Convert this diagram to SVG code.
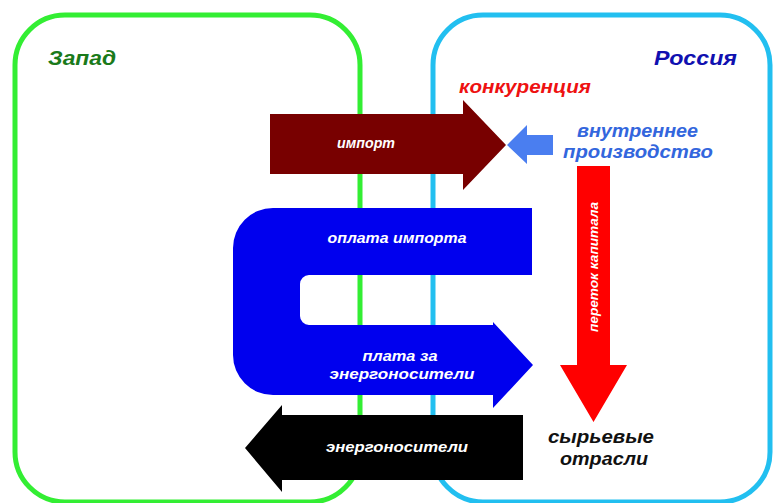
<svg xmlns="http://www.w3.org/2000/svg" width="773" height="503" viewBox="0 0 773 503">
  <style>
    text { font-family: "Liberation Sans", Arial, sans-serif; font-weight: bold; font-style: italic; }
    .region { fill: none; stroke-width: 5; }
    .title { font-size: 20px; }
    .label { font-size: 18px; }
    .flow { fill: #ffffff; font-size: 14px; text-anchor: middle; }
  </style>

  <!-- Regions -->
  <g id="west">
    <rect class="region" x="15" y="15" width="345" height="487" rx="50" ry="50" stroke="#33ee33"/>
    <text class="title" x="48" y="65" fill="#1a7a1a" textLength="68" lengthAdjust="spacingAndGlyphs">Запад</text>
  </g>
  <g id="russia">
    <rect class="region" x="433" y="15" width="337" height="487" rx="50" ry="50" stroke="#22bff0"/>
    <text class="title" x="654" y="65" fill="#1010b0" textLength="83" lengthAdjust="spacingAndGlyphs">Россия</text>
  </g>

  <!-- Free-standing labels -->
  <g id="competition">
    <text class="label" x="459" y="93" fill="#ee1111" textLength="132" lengthAdjust="spacingAndGlyphs">конкуренция</text>
  </g>
  <g id="domestic-production">
    <text class="label" x="577" y="137" fill="#3366dd" textLength="121" lengthAdjust="spacingAndGlyphs">внутреннее</text>
    <text class="label" x="563" y="158" fill="#3366dd" textLength="150" lengthAdjust="spacingAndGlyphs">производство</text>
  </g>
  <g id="raw-sectors">
    <text class="label" x="548" y="443" fill="#111111" textLength="106" lengthAdjust="spacingAndGlyphs">сырьевые</text>
    <text class="label" x="560" y="465" fill="#111111" textLength="88" lengthAdjust="spacingAndGlyphs">отрасли</text>
  </g>

  <!-- Flows -->
  <g id="connectors">
    <g id="import">
      <path d="M270 114 H463 V100 L506 145 L463 190 V174 H270 Z" fill="#780000"/>
      <text class="flow" x="366" y="148" textLength="58" lengthAdjust="spacingAndGlyphs">импорт</text>
    </g>
    <g id="domestic-push">
      <path d="M553 135 H527 V125 L507 145 L527 164 V155 H553 Z" fill="#4a7ef0"/>
    </g>
    <g id="capital-flow">
      <path d="M577 166 H610 V365 H627 L593.5 422 L560 365 H577 Z" fill="#ff0000"/>
      <text class="flow" font-size="12" transform="translate(598 267) rotate(-90)" textLength="130" lengthAdjust="spacingAndGlyphs" style="font-size:12px">переток капитала</text>
    </g>
    <g id="payments">
      <path d="M532 208 H273 A40 40 0 0 0 233 248 V355 A40 40 0 0 0 273 395 H493 V408 L533 365 L493 322 V325 H309 A9 9 0 0 1 300 316 V284 A9 9 0 0 1 309 275 H532 Z" fill="#0000ee"/>
      <text class="flow" x="397" y="243" textLength="139" lengthAdjust="spacingAndGlyphs">оплата импорта</text>
      <text class="flow" x="400" y="361" textLength="75" lengthAdjust="spacingAndGlyphs">плата за</text>
      <text class="flow" x="402" y="379" textLength="145" lengthAdjust="spacingAndGlyphs">энергоносители</text>
    </g>
    <g id="energy">
      <path d="M523 415 H282 V405 L245 448 L282 492 V480 H523 Z" fill="#000000"/>
      <text class="flow" x="397" y="452" textLength="142" lengthAdjust="spacingAndGlyphs">энергоносители</text>
    </g>
  </g>
</svg>
